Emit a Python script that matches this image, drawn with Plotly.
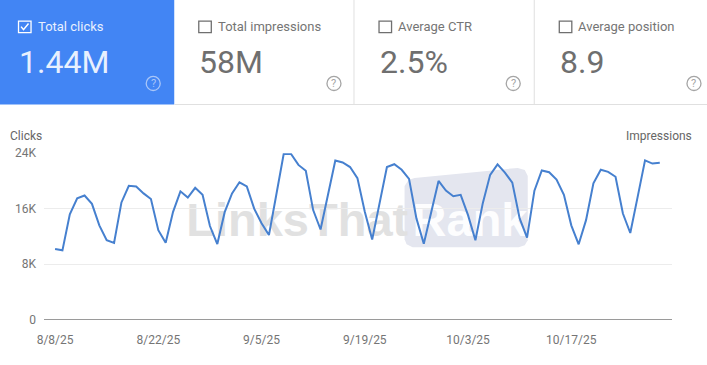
import pandas as pd
import plotly.graph_objects as go

W, H = 707, 365
start_date = "2025-08-08"
clicks_k = [10.2, 10.0, 15.2, 17.5, 17.9, 16.7, 13.6, 11.45, 11.06, 16.9,
            19.3, 19.2, 18.2, 17.4, 12.9, 11.1, 15.55, 18.5, 17.6, 19.0,
            18.0, 13.5, 10.9, 15.5, 18.2, 19.8, 19.2, 16.0, 13.9, 12.2,
            18.0, 23.87, 23.87, 22.3, 21.45, 15.8, 13.0, 18.0, 22.95, 22.65,
            22.0, 20.4, 15.55, 11.55, 16.75, 22.0, 22.4, 21.6, 20.3, 14.6,
            10.96, 15.55, 20.0, 18.6, 17.8, 18.0, 15.07, 11.45, 16.8, 20.87,
            22.37, 21.2, 19.75, 14.6, 11.84, 18.6, 21.5, 21.25, 20.2, 18.0,
            13.6, 10.87, 14.35, 19.66, 21.6, 21.3, 20.6, 15.3, 12.5, 17.7,
            22.95, 22.5, 22.6]
x_tick_dates = ["2025-08-08", "2025-08-22", "2025-09-05", "2025-09-19", "2025-10-03", "2025-10-17"]
x_tick_labels = ["8/8/25", "8/22/25", "9/5/25", "9/19/25", "10/3/25", "10/17/25"]
y_tick_values = [0, 8, 16, 24]
y_tick_labels = ["0", "8K", "16K", "24K"]
card_labels = ["Total clicks", "Total impressions", "Average CTR", "Average position"]
card_values = ["1.44M", "58M", "2.5%", "8.9"]

dates = pd.date_range(start_date, periods=len(clicks_k), freq="D")
t0 = dates[0]
PX_PER_DAY = 7.364

L, R, T, B = 45.0, 672.0, 153.3, 319.0
X0 = 56.0
# The paper area as it comes out on the page
AX0, AX1, AY0, AY1 = 8.0, 707.0, 8.0, 357.0


def px(x):
    return (x - AX0) / (AX1 - AX0)


def py(y):
    return 1 - (y - AY0) / (AY1 - AY0)


fig = go.Figure(go.Scatter(x=dates, y=clicks_k, mode="lines", cliponaxis=False,
                           line=dict(color="#4680cf", width=2), hoverinfo="skip"))

shapes, ann = [], []


def text(x, y, s, size, color, anchor="left", family="Roboto"):
    nudge = {"left": -1.0, "right": 1.0, "center": 0}[anchor]
    ann.append(dict(x=px(x + nudge), y=py(y), xref="paper", yref="paper", text=s, showarrow=False,
                    xanchor=anchor, yanchor="middle", borderpad=0,
                    font=dict(family=family, size=size, color=color)))


def rect(x0, y0, x1, y1, fill="rgba(0,0,0,0)", line=None, width=1.0, layer="below"):
    shapes.append(dict(type="rect", xref="paper", yref="paper", x0=px(x0), x1=px(x1),
                       y0=py(y0), y1=py(y1), fillcolor=fill, layer=layer,
                       line=dict(color=line or "rgba(0,0,0,0)", width=width if line else 0)))


def path(points, fill="rgba(0,0,0,0)", line=None, width=1.0, closed=True, layer="below"):
    d = "M " + " L ".join(f"{px(a):.5f},{py(b):.5f}" for a, b in points) + (" Z" if closed else "")
    shapes.append(dict(type="path", xref="paper", yref="paper", path=d, fillcolor=fill, layer=layer,
                       line=dict(color=line or "rgba(0,0,0,0)", width=width if line else 0)))


# Watermark
path([(405, 186), (409, 180), (415, 178), (518, 168), (525, 170), (528, 176), (528, 240), (525, 245),
      (519, 247), (413, 247), (407, 244), (405, 239)], fill="#e4e6ef")
wm_fam = "Liberation Sans"
for s, x0, x1, c in [("LinksThat", 184, 405, "#e1e1e1"), ("Rank", 410, 518, "#fdfdfe")]:
    shapes.append(dict(type="rect", xref="paper", yref="paper", x0=px(x0), x1=px(x1), y0=py(240), y1=py(190),
                       layer="below", line=dict(width=0), fillcolor="rgba(0,0,0,0)",
                       label=dict(text=f"<b>{s}</b>", textposition="middle left", padding=0,
                                  xanchor="left", yanchor="middle",
                                  font=dict(family=wm_fam, size=47, color=c))))

# Header cards
rect(0, 0, 175, 105, fill="#4285f4")
rect(175, 104.5, 707, 105.5, fill="#e0e0e0")
for vx in (354.5, 534.5):
    rect(vx - 0.5, 0, vx + 0.5, 105, fill="#e0e0e0")
label_x = [38.5, 218.5, 398.5, 578.5]
box_x = [19.5, 199.5, 379.5, 559.5]
value_x = [20, 200, 380, 560]
help_x = [154, 334.5, 513.5, 694]
for i, (lab, val) in enumerate(zip(card_labels, card_values)):
    on = i == 0
    rect(box_x[i], 22, box_x[i] + 12.5, 33.5, line="#ffffff" if on else "#6f6f6f", width=1.3)
    if on:
        path([(box_x[i] + 2.5, 27.5), (box_x[i] + 5, 30.5), (box_x[i] + 10, 24.5)], line="#ffffff", width=1.5, closed=False)
    text(label_x[i], 27.5, lab, 13, "#e8f0fe" if on else "#757575")
    text(value_x[i], 63, val, 32, "#e8f0fe" if on else "#6f6f6f")
    c = "#a9c6f8" if on else "#a5a5a5"
    shapes.append(dict(type="circle", xref="paper", yref="paper", x0=px(help_x[i] - 7), x1=px(help_x[i] + 7),
                       y0=py(84 + 7), y1=py(84 - 7), layer="below", fillcolor="rgba(0,0,0,0)",
                       line=dict(color=c, width=1.3)))
    text(help_x[i], 84.5, "?", 11, c, anchor="center")

text(11, 136, "Clicks", 12, "#666666")
text(692, 136, "Impressions", 12, "#666666", anchor="right")

fig.update_layout(
    width=W, height=H, margin=dict(l=0, r=0, t=0, b=0), autosize=False,
    paper_bgcolor="#ffffff", plot_bgcolor="#ffffff", showlegend=False,
    font=dict(family="Roboto", size=12, color="#757575"),
    shapes=shapes, annotations=ann,
    xaxis=dict(domain=[px(L), px(R)], type="date",
               range=[t0 + pd.Timedelta(days=(L - X0) / PX_PER_DAY), t0 + pd.Timedelta(days=(R - X0) / PX_PER_DAY)],
               tickmode="array", tickvals=x_tick_dates, ticktext=x_tick_labels, showgrid=False,
               showline=False, zeroline=False, ticks="", ticklabelstandoff=11),
    yaxis=dict(domain=[py(B), py(T)], range=[0, 24], tickmode="array", tickvals=y_tick_values,
               ticktext=y_tick_labels, showgrid=True, gridcolor="#ececec", gridwidth=1,
               zeroline=True, zerolinecolor="#9a9a9a", zerolinewidth=1.3, showline=False,
               ticks="", ticklabelstandoff=7),
)
fig.write_html("out.html", config={"displayModeBar": False})
with open("out.html", encoding="utf-8") as f:
    page = f.read()
page = page.replace("<head>", "<head><style>html,body{margin:0;padding:0;overflow:hidden}</style>", 1)
with open("out.html", "w", encoding="utf-8") as f:
    f.write(page)
